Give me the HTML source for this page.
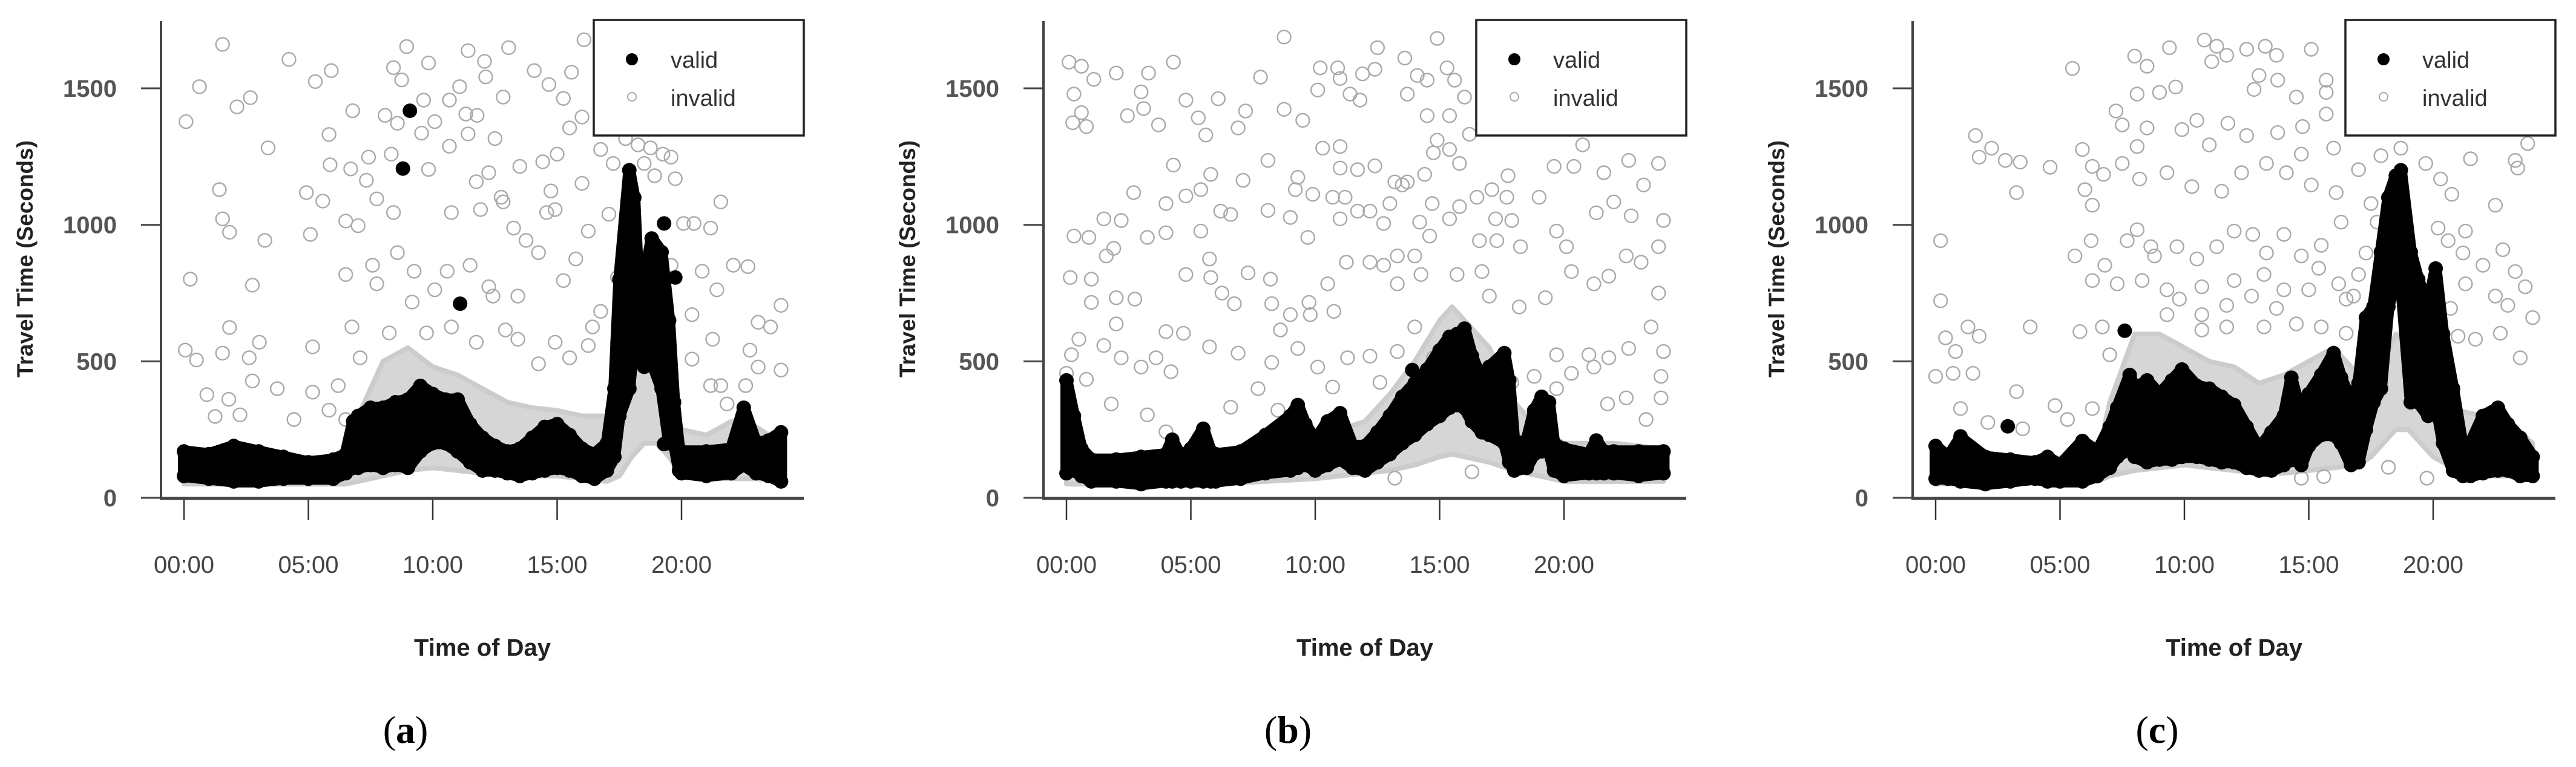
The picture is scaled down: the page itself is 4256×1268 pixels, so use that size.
<!DOCTYPE html>
<html>
<head>
<meta charset="utf-8">
<style>
html,body{margin:0;padding:0;background:#fff;}
svg{display:block;}
text{font-family:"Liberation Sans",sans-serif;}
</style>
</head>
<body>
<svg id="fig" width="4256" height="1268" viewBox="0 0 4256 1268" xmlns="http://www.w3.org/2000/svg"></svg>
<script>
// ---------- shared axis data ----------
const yTicks = [0, 500, 1000, 1500];
const xTickHours = [0, 5, 10, 15, 20];
const xTickLabels = ["00:00", "05:00", "10:00", "15:00", "20:00"];
const panelLabels = ["a", "b", "c"];

// ---------- panel (a) ----------
const aTime = [0,1,2,3,4,5,6,6.5,6.8,7,7.5,8,8.5,9,9.5,10,10.5,11,11.5,12,12.5,13,13.5,14,14.5,15,15.5,16,16.5,17,17.3,17.5,17.9,18.1,18.3,18.5,18.8,19.2,19.5,19.7,19.9,20,21,22,22.5,23,23.5,24];
const aLow  = [80,70,60,60,70,70,70,90,110,110,120,110,120,110,170,200,200,170,130,100,100,90,80,90,100,110,100,80,70,100,150,300,400,600,500,480,500,400,200,200,100,90,80,90,120,90,80,60];
const aHigh = [170,160,190,170,150,130,140,160,280,300,330,330,350,360,410,380,360,360,270,220,190,170,180,220,260,270,230,180,160,200,400,800,1200,1100,700,800,950,900,650,350,180,170,170,180,330,200,210,240];
const aOutT = [9.08,8.8,11.1,19.3,19.75,19.3];
const aOutV = [1418,1206,711,1005,807,197];
const aGrayT = [0,6.5,7,8,9,10,11,12,13,14,15,16,17,17.5,18,18.5,19,19.5,20,21,22,23,24];
const aGrayLow = [50,50,60,80,100,110,100,90,80,80,80,70,60,80,150,200,200,150,80,70,70,70,60];
const aGrayHigh = [130,150,300,500,550,480,450,400,350,330,320,300,300,400,450,500,450,400,250,230,280,260,200];
const aInvT = [1.55,0.62,0.08,4.22,5.92,5.28,2.13,2.67,3.38,5.83,6.78,5.87,6.7,1.42,4.92,5.58,1.55,1.83,3.25,5.08,6.5,7.0,0.25,2.75,1.83,1.55,0.05,0.5,2.62,3.03,2.75,0.92,1.8,1.25,2.25,3.75,4.42,5.17,5.83,6.2,5.17,6.5,7.42,8.33,8.08,8.58,8.95,8.42,8.75,9.83,9.63,10.08,9.83,9.55,10.67,11.08,11.42,12.08,12.13,12.83,13.05,11.33,11.78,10.67,11.42,12.5,12.25,13.5,14.42,15.0,14.08,14.67,15.58,16.08,15.25,16.0,15.5,16.75,16.0,17.08,14.75,14.58,12.83,11.75,12.75,11.92,10.75,8.42,7.75,7.33,19.75,20.08,20.5,21.17,21.58,22.08,22.67,24,23.08,23.58,21.42,20.83,22.75,24,21.25,20.42,23.08,21.58,22.58,17.42,16.42,16.25,16.75,15.5,14.92,14.25,13.42,12.92,12.42,13.42,11.75,10.75,10.58,11.5,12.25,10.08,9.25,8.58,7.58,7.75,6.75,7.08,6.5,8.25,9.17,9.75,14.25,15.25,14.92,13.75,15.75,16.25,13.25,19.58,20.42,21.17,21.83,17.42,17.92,17.75,18.25,18.75,19.25,18.5,18.92,19.58,17.25];
const aInvV = [1661,1506,1378,1606,1565,1525,1432,1466,1282,1331,1418,1220,1205,1129,1118,1087,1022,973,943,965,1014,997,801,779,624,530,541,505,513,570,428,378,361,298,304,400,287,387,321,411,553,818,1248,1259,1401,1372,1653,1576,1531,1593,1457,1378,1203,1336,1457,1506,1638,1599,1542,1468,1649,1406,1401,1288,1333,1316,1191,1214,1231,1259,1565,1514,1559,1678,1463,1395,1355,1276,1152,1039,1124,1045,1084,1158,1101,1056,1045,1045,1095,1163,1169,1005,1005,988,1084,852,847,705,643,626,762,830,541,468,581,508,479,411,411,807,626,558,683,513,570,491,581,615,739,739,570,626,830,852,773,762,830,898,852,784,626,513,287,604,717,604,898,796,1056,943,875,977,988,852,671,411,344,570,400,1316,1293,1282,1259,1225,1180,1248,1225];

// ---------- panel (b) ----------
const bTime = [0,0.3,0.6,1,2,3,4,4.25,4.6,5,5.5,5.8,6,7,8,9,9.3,9.6,10,10.5,11,11.5,12,12.5,13,13.5,14,14.5,15,15.4,15.7,16,16.3,16.7,17,17.6,17.8,18,18.5,18.8,19.1,19.4,19.6,20,21,21.3,21.6,22,23,24];
const bLow  = [90,100,80,60,60,50,60,60,60,60,60,60,60,70,90,100,110,120,100,120,140,110,100,130,160,200,230,270,300,330,340,330,280,240,230,200,130,100,110,160,170,170,100,80,90,90,90,90,80,90];
const bHigh = [430,300,180,140,140,150,160,213,150,180,253,170,160,170,230,300,340,270,210,280,310,190,190,240,300,370,420,470,540,590,600,620,520,430,480,530,430,200,210,320,370,350,200,180,160,210,170,170,170,170];
const bOutT = [13.9];
const bOutV = [468];
const bGrayT = [0,6,8,10,11,12,13,14,15,15.5,16,17,18,19,20,22,24];
const bGrayLow = [50,50,60,70,80,90,100,120,150,160,150,130,100,80,60,60,60];
const bGrayHigh = [130,150,200,250,250,280,380,500,650,700,650,550,350,250,200,200,180];
const bInvT = [0.1,0.6,1.1,2.0,3.3,4.3,3.0,3.1,3.7,0.3,0.6,0.25,0.8,2.45,4.8,6.1,5.3,5.6,6.9,7.2,7.8,8.75,8.75,9.5,10.1,10.2,10.9,11.0,11.4,11.8,11.9,12.4,12.5,13.6,13.7,14.1,14.5,14.9,15.3,15.6,16.0,14.5,15.4,16.2,14.9,14.75,15.4,15.8,13.7,14.4,13.2,12.4,11.7,11.0,11.0,10.3,9.3,9.2,9.9,8.1,7.1,5.8,5.4,4.3,2.7,1.5,2.2,0.3,0.9,3.25,4.0,4.8,4.0,6.2,6.6,8.1,9.0,9.7,10.7,11.2,11.7,11.0,12.2,12.75,13.0,13.5,14.2,14.6,14.7,15.4,15.8,16.5,17.1,17.75,17.7,17.25,17.9,17.3,18.25,16.6,19.0,19.6,20.4,20.75,21.6,22.6,23.8,23.2,22.0,21.3,22.7,24.0,19.7,20.1,20.3,21.2,21.8,22.5,23.1,23.8,23.8,23.5,22.6,21.8,21.0,19.7,19.25,18.2,17.0,16.7,15.7,14.25,13.3,13.3,14.0,12.75,12.2,11.25,10.5,10.75,9.8,9.75,9.0,8.25,8.2,7.3,6.75,6.25,5.8,5.75,5.4,4.8,4.7,4.0,2.75,2.0,2.0,1.0,0.15,1.0,1.6,1.9,0.5,0.2,1.5,2.2,0.0,0.8,1.8,3.0,3.6,4.2,5.75,6.9,7.7,8.25,8.6,9.3,10.1,10.7,11.3,12.2,12.6,13.3,14.0,14.75,15.75,16.7,17.9,18.8,19.7,20.3,21.2,21.75,22.5,23.3,23.9,24.0,23.9,16.3,13.2,3.25,6.6,8.5,4.0];
const bInvV = [1596,1581,1533,1556,1556,1596,1487,1426,1366,1479,1411,1374,1360,1400,1457,1462,1392,1329,1355,1417,1541,1688,1423,1383,1494,1575,1575,1536,1479,1457,1553,1570,1649,1611,1479,1547,1530,1683,1575,1530,1468,1400,1400,1332,1310,1264,1276,1225,1157,1185,1157,1216,1202,1208,1287,1281,1174,1129,1112,1236,1163,1185,1129,1219,1118,1022,1016,959,954,954,971,1106,1078,1050,1038,1053,1027,954,1101,1101,1050,1022,1050,1005,1078,1146,1010,959,1078,1022,1067,1101,1129,1180,1101,1022,1016,942,920,942,1101,1214,1214,1293,1191,1236,1225,1146,1084,1044,1033,1016,977,920,829,784,812,886,863,920,750,626,547,513,524,524,733,699,739,829,818,818,886,784,886,852,863,863,784,683,671,716,671,711,801,824,711,750,807,875,977,818,603,609,728,733,637,716,807,801,886,914,581,524,558,513,456,434,344,479,513,462,553,530,400,496,615,547,479,406,513,519,423,536,626,513,456,423,423,445,400,456,479,344,366,287,445,536,366,95,72,304,332,321,242];

// ---------- panel (c) ----------
const cTime = [0,0.5,1,2,3,4,4.5,5,5.9,6.5,7,7.3,7.8,8,8.5,9,9.5,9.9,10.5,11,11.5,12,12.5,13,13.5,14,14.3,14.7,15,15.5,16,16.3,16.7,17,17.3,17.6,17.9,18.2,18.5,18.7,19.1,19.4,19.8,20.1,20.4,20.8,21.2,21.5,22,22.6,23,23.5,24];
const cLow  = [70,70,60,50,60,70,60,60,60,80,110,150,180,150,130,140,140,150,150,140,130,130,110,100,100,120,150,120,190,230,230,200,120,130,250,350,400,700,800,800,350,350,300,350,200,100,80,80,90,100,100,80,80];
const cHigh = [190,150,220,150,140,130,150,120,208,170,260,330,450,400,430,380,430,470,410,400,370,340,260,180,240,300,440,300,380,450,530,440,350,420,660,700,900,1100,1180,1200,900,800,700,840,600,400,180,200,300,330,270,220,150];
const cOutT = [7.6,2.9,14.3,17.0,1.0];
const cOutV = [612,262,138,132,225];
const cGrayT = [0,6.5,7,8,9,10,11,12,13,14,15,16,17,17.5,18,18.5,19,19.5,20,21,22,23,24];
const cGrayLow = [50,60,80,100,110,120,110,100,90,90,100,110,120,150,200,250,250,200,150,100,80,80,70];
const cGrayHigh = [130,150,350,600,600,550,500,480,420,450,500,550,450,450,500,600,550,450,400,320,300,280,200];
const cInvT = [1.6,2.25,1.75,2.8,3.4,4.6,3.25,5.5,8.0,8.5,9.4,8.1,9.0,9.65,10.8,11.3,11.1,11.7,12.5,13.25,13.7,13.0,12.8,13.75,14.5,15.1,15.7,15.7,7.25,7.5,8.5,8.1,9.9,10.5,11.0,11.75,12.5,13.75,14.75,15.7,16.0,14.7,5.9,6.3,6.75,6.0,6.3,7.5,8.2,9.3,10.3,11.5,12.3,13.3,14.1,15.1,16.1,17.0,17.9,18.7,19.7,20.3,20.75,21.5,22.5,23.3,23.8,23.4,17.5,17.75,18.2,20.2,21.3,20.6,21.2,22.0,22.8,23.3,23.7,24.0,23.0,22.5,21.3,20.7,21.0,22.7,23.5,21.7,17.0,16.5,17.3,16.3,15.5,15.4,14.7,14.0,13.3,12.75,12.0,11.3,10.5,9.7,8.8,8.1,7.7,8.65,6.25,5.6,6.3,6.8,7.3,8.3,9.3,10.7,12.0,13.2,14.0,15.0,16.2,16.8,13.7,12.7,11.7,10.7,9.8,9.3,10.7,11.7,13.2,14.5,15.5,16.5,6.7,5.8,7.0,0.2,0.2,1.3,1.75,3.8,0.4,0.8,0.0,0.7,1.5,1.0,3.25,4.8,5.3,6.3,2.1,3.5,14.7,15.6,19.75,18.2];
const cInvV = [1327,1281,1248,1236,1230,1211,1118,1573,1618,1581,1649,1479,1485,1505,1677,1654,1598,1621,1643,1654,1621,1547,1496,1530,1468,1643,1530,1485,1417,1366,1355,1287,1349,1383,1293,1372,1327,1338,1360,1406,1281,1259,1276,1214,1185,1129,1072,1225,1168,1191,1140,1123,1191,1225,1191,1146,1118,1202,1253,1281,1225,1168,1112,1242,1072,1236,1298,1208,1078,1010,965,988,977,942,897,852,909,829,773,660,705,739,784,694,592,603,513,581,818,728,897,1010,925,841,886,965,897,965,977,920,875,920,886,982,942,920,942,886,796,852,784,796,762,773,796,818,762,762,784,739,694,739,705,671,728,671,615,626,626,637,626,603,626,609,524,942,722,626,592,626,586,536,445,456,456,327,389,338,287,327,276,253,72,78,72,112];

// ---------- drawing ----------
const NS = "http://www.w3.org/2000/svg";
const svg = document.getElementById("fig");
const Y0 = 823, YS = 0.4513, XOFF = 38, XS = 41.1;
function yPos(v){ return Y0 - v * YS; }
function mk(tag, parent){ const el = document.createElementNS(NS, tag); parent.appendChild(el); return el; }

function drawPanel(idx, axisX, times, lows, highs, outT, outV, gT, gLow, gHigh, invT, invV){
  const xPos = t => axisX + XOFF + t * XS;
  const g = mk("g", svg);
  
  

  let d = "";
  gT.forEach((t,i)=>{ d += (i? "L":"M") + xPos(t).toFixed(1) + "," + yPos(gHigh[i]).toFixed(1); });
  for(let i=gT.length-1;i>=0;i--){ d += "L" + xPos(gT[i]).toFixed(1) + "," + yPos(gLow[i]).toFixed(1); }
  d += "Z";
  const band = mk("path", g);
  
  
  band.setAttribute("d", d);
  band.setAttribute("fill", "#d6d6d6");
  band.setAttribute("stroke", "#cccccc");
  band.setAttribute("stroke-width", "8");
  band.setAttribute("stroke-linejoin", "round");

  invT.forEach((t,i)=>{
    const c = mk("circle", g);
    
    
    c.setAttribute("cx", xPos(t).toFixed(1));
    c.setAttribute("cy", yPos(invV[i]).toFixed(1));
    c.setAttribute("r", "11");
    c.setAttribute("fill", "none");
    c.setAttribute("stroke", "#aaaaaa");
    c.setAttribute("stroke-width", "2.4");
  });

  let vd = "";
  times.forEach((t,i)=>{ vd += (i? "L":"M") + xPos(t).toFixed(1) + "," + yPos(highs[i]).toFixed(1); });
  for(let i=times.length-1;i>=0;i--){ vd += "L" + xPos(times[i]).toFixed(1) + "," + yPos(lows[i]).toFixed(1); }
  vd += "Z";
  const vb = mk("path", g);
  
  
  vb.setAttribute("d", vd);
  vb.setAttribute("fill", "#000");
  vb.setAttribute("stroke", "#000");
  vb.setAttribute("stroke-width", "20");
  vb.setAttribute("stroke-linejoin", "round");
  times.forEach((t,i)=>{
    [lows[i], highs[i]].forEach(v=>{
      const c = mk("circle", g);
      
      
      c.setAttribute("cx", xPos(t).toFixed(1));
      c.setAttribute("cy", yPos(v).toFixed(1));
      c.setAttribute("r", "12");
      c.setAttribute("fill", "#000");
    });
  });
  outT.forEach((t,i)=>{
    const c = mk("circle", g);
    
    
    c.setAttribute("cx", xPos(t).toFixed(1));
    c.setAttribute("cy", yPos(outV[i]).toFixed(1));
    c.setAttribute("r", "12");
    c.setAttribute("fill", "#000");
  });

  const yAxis = mk("line", g);
  
  
  yAxis.setAttribute("x1", axisX); yAxis.setAttribute("x2", axisX);
  yAxis.setAttribute("y1", 35); yAxis.setAttribute("y2", Y0 + 2);
  yAxis.setAttribute("stroke", "#444"); yAxis.setAttribute("stroke-width", "4");
  const xBase = mk("line", g);
  
  
  xBase.setAttribute("x1", axisX - 2); xBase.setAttribute("x2", axisX + 1062);
  xBase.setAttribute("y1", Y0 + 1); xBase.setAttribute("y2", Y0 + 1);
  xBase.setAttribute("stroke", "#444"); xBase.setAttribute("stroke-width", "5");

  yTicks.forEach(v=>{
    const tk = mk("line", g);
    
    
    tk.setAttribute("x1", axisX - 33); tk.setAttribute("x2", axisX);
    tk.setAttribute("y1", yPos(v)); tk.setAttribute("y2", yPos(v));
    tk.setAttribute("stroke", "#444"); tk.setAttribute("stroke-width", "3");
    const tl = mk("text", g);
    
    
    tl.setAttribute("x", axisX - 73);
    tl.setAttribute("y", yPos(v) + 14);
    tl.setAttribute("text-anchor", "end");
    tl.setAttribute("font-size", "40");
    tl.setAttribute("font-weight", "bold");
    tl.setAttribute("fill", "#555");
    tl.textContent = String(v);
  });
  xTickHours.forEach((h,i)=>{
    const tk = mk("line", g);
    
    
    tk.setAttribute("x1", xPos(h)); tk.setAttribute("x2", xPos(h));
    tk.setAttribute("y1", Y0 + 3); tk.setAttribute("y2", 860);
    tk.setAttribute("stroke", "#333"); tk.setAttribute("stroke-width", "2.5");
    const tl = mk("text", g);
    
    
    tl.setAttribute("x", xPos(h));
    tl.setAttribute("y", 947);
    tl.setAttribute("text-anchor", "middle");
    tl.setAttribute("font-size", "40");
    tl.setAttribute("fill", "#444");
    tl.textContent = xTickLabels[i];
  });

  const yt = mk("text", g);
  
  
  yt.setAttribute("transform", "translate(" + (axisX - 212) + ",428) rotate(-90)");
  yt.setAttribute("text-anchor", "middle");
  yt.setAttribute("font-size", "37");
  yt.setAttribute("font-weight", "bold");
  yt.setAttribute("fill", "#222");
  yt.textContent = "Travel Time (Seconds)";
  const xt = mk("text", g);
  
  
  xt.setAttribute("x", axisX + 531);
  xt.setAttribute("y", 1084);
  xt.setAttribute("text-anchor", "middle");
  xt.setAttribute("font-size", "40");
  xt.setAttribute("font-weight", "bold");
  xt.setAttribute("fill", "#222");
  xt.textContent = "Time of Day";

  const lb = mk("rect", g);
  
  
  lb.setAttribute("x", axisX + 715); lb.setAttribute("y", 33);
  lb.setAttribute("width", 347); lb.setAttribute("height", 191);
  lb.setAttribute("fill", "#fff"); lb.setAttribute("stroke", "#222"); lb.setAttribute("stroke-width", "3.5");
  const ld = mk("circle", g);
  
  
  ld.setAttribute("cx", axisX + 778); ld.setAttribute("cy", 98); ld.setAttribute("r", "10"); ld.setAttribute("fill", "#000");
  const lt1 = mk("text", g);
  
  
  lt1.setAttribute("x", axisX + 842); lt1.setAttribute("y", 112);
  lt1.setAttribute("font-size", "38"); lt1.setAttribute("fill", "#333");
  lt1.textContent = "valid";
  const lc = mk("circle", g);
  
  
  lc.setAttribute("cx", axisX + 778); lc.setAttribute("cy", 160); lc.setAttribute("r", "7");
  lc.setAttribute("fill", "none"); lc.setAttribute("stroke", "#aaa"); lc.setAttribute("stroke-width", "2");
  const lt2 = mk("text", g);
  
  
  lt2.setAttribute("x", axisX + 842); lt2.setAttribute("y", 175);
  lt2.setAttribute("font-size", "38"); lt2.setAttribute("fill", "#333");
  lt2.textContent = "invalid";

  const pl = mk("text", g);
  
  
  pl.setAttribute("x", axisX + 404);
  pl.setAttribute("y", 1228);
  pl.setAttribute("text-anchor", "middle");
  pl.setAttribute("font-size", "64");
  pl.setAttribute("style", "font-family:'Liberation Serif',serif");
  pl.setAttribute("fill", "#000");
  const t1 = mk("tspan", pl); t1.textContent = "(";
  const t2 = mk("tspan", pl); t2.setAttribute("font-weight", "bold"); t2.textContent = panelLabels[idx];
  const t3 = mk("tspan", pl); t3.textContent = ")";
}

drawPanel(0, 266, aTime, aLow, aHigh, aOutT, aOutV, aGrayT, aGrayLow, aGrayHigh, aInvT, aInvV);
drawPanel(1, 1724, bTime, bLow, bHigh, bOutT, bOutV, bGrayT, bGrayLow, bGrayHigh, bInvT, bInvV);
drawPanel(2, 3160, cTime, cLow, cHigh, cOutT, cOutV, cGrayT, cGrayLow, cGrayHigh, cInvT, cInvV);
</script>
</body>
</html>
